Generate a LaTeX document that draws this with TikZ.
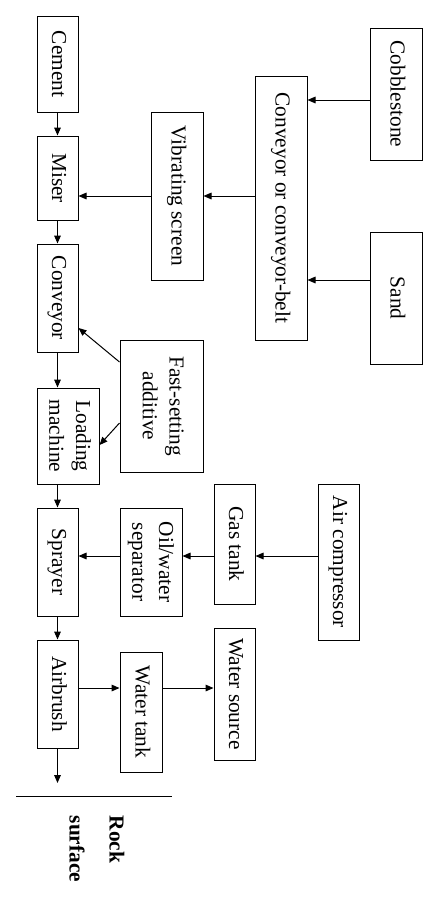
\documentclass[tikz,border=0pt]{standalone}
\usepackage{fontspec}
\setmainfont{Liberation Serif}[Ligatures=NoCommon]
\usepackage{graphicx}
\usetikzlibrary{arrows.meta}
\newcommand{\vtext}[1]{\rotatebox{-90}{\begin{tabular}{@{}c@{}}#1\end{tabular}}}

\begin{document}
\begin{tikzpicture}[x=0.75pt, y=-0.75pt, line width=0.75pt,
    >={Triangle[length=6pt,width=5pt]},
    blk/.style = {draw, inner sep=0pt, font=\fontsize{16}{20}\selectfont}]
	\useasboundingbox (0,0) rectangle (438,911);
	% main line
	\node[blk, minimum width=30.75pt, minimum height=72pt] (cement) at (57.5,64) {\vtext{Cement}};
	\node[blk, minimum width=30.75pt, minimum height=63pt] (miser) at (57.5,178) {\vtext{Miser}};
	\node[blk, minimum width=30.75pt, minimum height=81pt] (conv) at (57.5,298) {\vtext{Conveyor}};
	\node[blk, minimum width=46.5pt, minimum height=72pt] (load) at (68,436) {\vtext{Loading\\machine}};
	\node[blk, minimum width=30.75pt, minimum height=81pt] (spray) at (57.5,562) {\vtext{Sprayer}};
	\node[blk, minimum width=30.75pt, minimum height=81pt] (brush) at (57.5,694) {\vtext{Airbrush}};
	% second column
	\node[blk, minimum width=39pt, minimum height=126pt] (vib) at (177,196) {\vtext{Vibrating screen}};
	\node[blk, minimum width=62.25pt, minimum height=99pt] (fast) at (161.5,406) {\vtext{Fast-setting\\additive}};
	\node[blk, minimum width=46.5pt, minimum height=81pt] (oil) at (151,562) {\vtext{Oil/water\\separator}};
	\node[blk, minimum width=31.5pt, minimum height=90pt] (tank) at (141,712) {\vtext{Water tank}};
	% third column
	\node[blk, minimum width=39pt, minimum height=198pt] (belt) at (281,208) {\vtext{Conveyor or conveyor-belt}};
	\node[blk, minimum width=30.75pt, minimum height=90pt] (gas) at (234.5,544) {\vtext{Gas tank}};
	\node[blk, minimum width=30.75pt, minimum height=99pt] (source) at (234.5,694) {\vtext{Water source}};
	% sources
	\node[blk, minimum width=39pt, minimum height=99pt] (cob) at (396,94) {\vtext{Cobblestone}};
	\node[blk, minimum width=39pt, minimum height=99pt] (sand) at (396,298) {\vtext{Sand}};
	\node[blk, minimum width=30.75pt, minimum height=117pt] (comp) at (338.5,562) {\vtext{Air compressor}};
	% rock
	\node[font=\fontsize{16}{20}\selectfont\bfseries, inner sep=0pt] (rock) at (95,849)
		{\rotatebox{-90}{\begin{tabular}{@{}l@{}}Rock\\[10pt]surface\end{tabular}}};
	\coordinate (hit) at (57.5,783);
	\coordinate (rowcob) at (0,100);
	\coordinate (rowsand) at (0,280);
	\coordinate (rowgas) at (0,556);
	\coordinate (rowwater) at (0,688);

	\draw[->] (cement) -- (miser);
	\draw[->] (miser) -- (conv);
	\draw[->] (conv.south) -- (conv.south |- load.north);
	\draw[->] (load.south -| spray) -- (spray.north);
	\draw[->] (spray) -- (brush);
	\draw[->] (brush) -- (hit);
	\draw (16,796) -- (172,796);

	\draw[->] (vib.west) -- (vib.west -| miser.east);
	\draw[->] (belt.west |- vib) -- (vib.east);
	\draw[->] (cob.west |- rowcob) -- (belt.east |- rowcob);
	\draw[->] (sand.west |- rowsand) -- (belt.east |- rowsand);

	\draw[->] ([yshift=33pt]fast.west) -- ([yshift=-22.5pt]conv.east);
	\draw[->] ([yshift=-12.75pt]fast.west) -- ([yshift=-6.75pt]load.east);

	\draw[->] (comp.west |- rowgas) -- (gas.east |- rowgas);
	\draw[->] (gas.west |- rowgas) -- (oil.east |- rowgas);
	\draw[->] (oil.west |- rowgas) -- (spray.east |- rowgas);

	\draw[->] (brush.east |- rowwater) -- (tank.west |- rowwater);
	\draw[->] (tank.east |- rowwater) -- (source.west |- rowwater);
\end{tikzpicture}
\end{document}
